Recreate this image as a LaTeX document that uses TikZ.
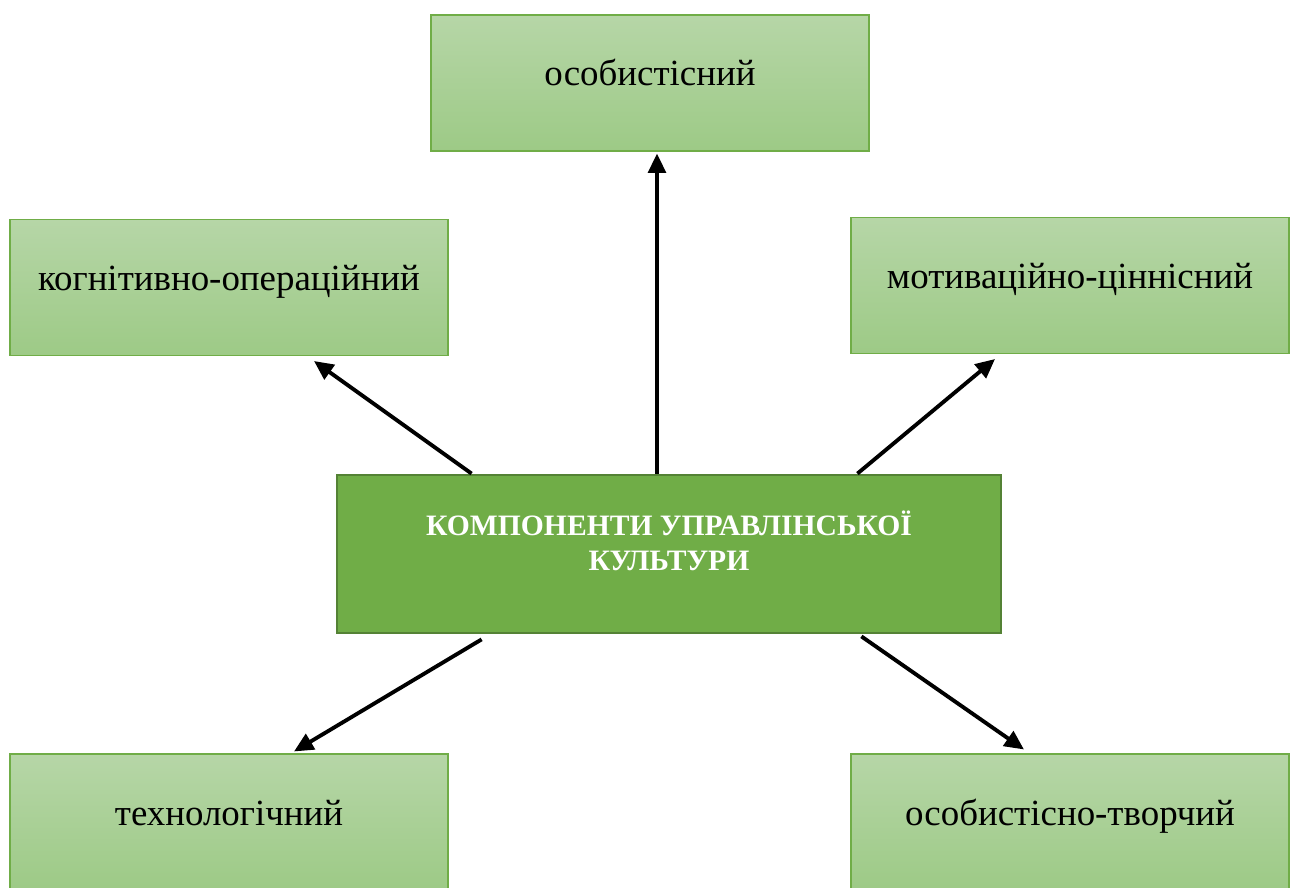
\documentclass[tikz,border=0pt]{standalone}
\usepackage{fontspec}
\setmainfont{Liberation Serif}
\usetikzlibrary{arrows.meta}
\definecolor{leafgreen}{RGB}{112,173,71}
\definecolor{leaftop}{RGB}{182,214,167}
\definecolor{leafbottom}{RGB}{157,202,134}
\definecolor{coreedge}{RGB}{84,130,53}

\begin{document}
\begin{tikzpicture}[
  box/.style={draw=leafgreen, line width=0.6pt, top color=leaftop, bottom color=leafbottom,
    minimum width=8.76cm, minimum height=2.72cm, font=\fontsize{21}{25}\selectfont,
    text height=0.5cm, text depth=0.38cm},
  core/.style={draw=coreedge, line width=1.6pt, fill=leafgreen, text=white,
    minimum width=13.28cm, minimum height=3.16cm, align=center,
    font=\fontsize{16.85}{20}\selectfont\bfseries,
    text height=1.2cm, text depth=0.52cm},
  arrow/.style={-{Triangle[length=11pt,width=10pt]}, line width=2.2pt, black}
]
\useasboundingbox (0,0) rectangle (25.82,17.74);
% outer components
\node[box] (pers) at (13.0,16.08) {особистісний};
\node[box] (cogn) at (4.58,11.99) {когнітивно-операційний};
\node[box] (motiv) at (21.4,12.03) {мотиваційно-ціннісний};
\node[box] (tech) at (4.58,1.3) {технологічний};
\node[box] (creat) at (21.4,1.3) {особистісно-творчий};
% centre
\node[core] (comp) at (13.38,6.66) {КОМПОНЕНТИ УПРАВЛІНСЬКОЇ\\КУЛЬТУРИ};
\draw[arrow] ([xshift=-0.24cm]comp.north) -- ([xshift=0.14cm,yshift=-0.04cm]pers.south);
\draw[arrow] ([xshift=2.72cm]comp.north west) -- ([xshift=1.7cm,yshift=-0.1cm]cogn.south);
\draw[arrow] ([xshift=-2.9cm]comp.north east) -- ([xshift=-1.5cm,yshift=-0.1cm]motiv.south);
\draw[arrow] ([xshift=2.92cm,yshift=-0.1cm]comp.south west) -- ([xshift=1.3cm,yshift=0.04cm]tech.north);
\draw[arrow] ([xshift=-2.82cm,yshift=-0.04cm]comp.south east) -- ([xshift=-0.92cm,yshift=0.08cm]creat.north);
\end{tikzpicture}
\end{document}
